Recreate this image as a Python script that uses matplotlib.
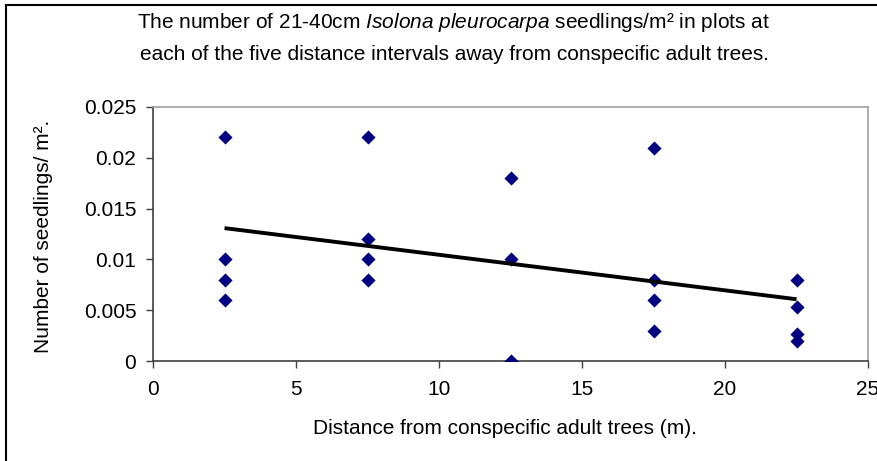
import numpy as np
import matplotlib
matplotlib.use("Agg")
import matplotlib.pyplot as plt
from matplotlib.patches import Rectangle

plt.rcParams["font.family"] = ["Liberation Sans", "DejaVu Sans"]
plt.rcParams["mathtext.fontset"] = "custom"
plt.rcParams["mathtext.rm"] = "Liberation Sans"
plt.rcParams["mathtext.it"] = "Liberation Sans:italic"

# Seedling densities per plot at each distance interval midpoint
distance_2_5 = [0.022, 0.010, 0.008, 0.006]
distance_7_5 = [0.022, 0.012, 0.010, 0.008]
distance_12_5 = [0.018, 0.010, 0.000]
distance_17_5 = [0.021, 0.008, 0.006, 0.003]
distance_22_5 = [0.008, 0.0053, 0.0027, 0.002]
interval_midpoints = [2.5, 7.5, 12.5, 17.5, 22.5]

x_ticks = [0, 5, 10, 15, 20, 25]
y_ticks = [0, 0.005, 0.01, 0.015, 0.02, 0.025]
y_tick_labels = ["0", "0.005", "0.01", "0.015", "0.02", "0.025"]

groups = [distance_2_5, distance_7_5, distance_12_5, distance_17_5, distance_22_5]
xs = np.concatenate([[m] * len(g) for m, g in zip(interval_midpoints, groups)])
ys = np.concatenate(groups)

W, H = 877, 461
fig = plt.figure(figsize=(W / 100, H / 100), dpi=100)

# Outer chart border
fig.patches.append(Rectangle((5.5 / W, -0.1), 1.2, (H - 5.5) / H + 0.1,
                             transform=fig.transFigure, fill=False,
                             edgecolor="#000000", linewidth=1.5))

ax = fig.add_axes([153 / W, (H - 361) / H, (868 - 153) / W, (361 - 107) / H])

ax.scatter(xs, ys, marker="D", s=52, color="#000080", zorder=3, linewidths=0)

# Linear trend line over the plotted range
slope, intercept = np.polyfit(xs, ys, 1)
xl = np.array([min(interval_midpoints), max(interval_midpoints)])
ax.plot(xl, slope * xl + intercept, color="black", linewidth=2.8, zorder=4,
        solid_capstyle="butt")

ax.set_xlim(0, 25)
ax.set_ylim(0, 0.025)
ax.set_xticks(x_ticks)
ax.set_xticklabels([str(t) for t in x_ticks])
ax.set_yticks(y_ticks)
ax.set_yticklabels(y_tick_labels)

for side in ("top", "right"):
    ax.spines[side].set_color("#a0a0a0")
    ax.spines[side].set_linewidth(1.2)
for side in ("left", "bottom"):
    ax.spines[side].set_color("#404040")
    ax.spines[side].set_linewidth(1.2)

ax.tick_params(axis="both", direction="out", length=5, width=1, color="#404040",
               labelsize=15, labelcolor="black")
ax.tick_params(axis="x", pad=9)
ax.tick_params(axis="y", pad=7)

fig.text(505 / W, 1 - 428 / H, "Distance from conspecific adult trees (m).",
         ha="center", va="center", fontsize=15)
fig.text(44 / W, 1 - 236 / H, "Number of seedlings/ m².",
         ha="center", va="center", rotation=90, fontsize=15)

fig.text(454 / W, 1 - 23 / H,
         r"The number of 21-40cm $\mathit{Isolona\ pleurocarpa}$ seedlings/m² in plots at",
         ha="center", va="center", fontsize=15)
fig.text(454 / W, 1 - 54 / H,
         "each of the five distance intervals away from conspecific adult trees.",
         ha="center", va="center", fontsize=15)

fig.savefig("out.png", dpi=100)
